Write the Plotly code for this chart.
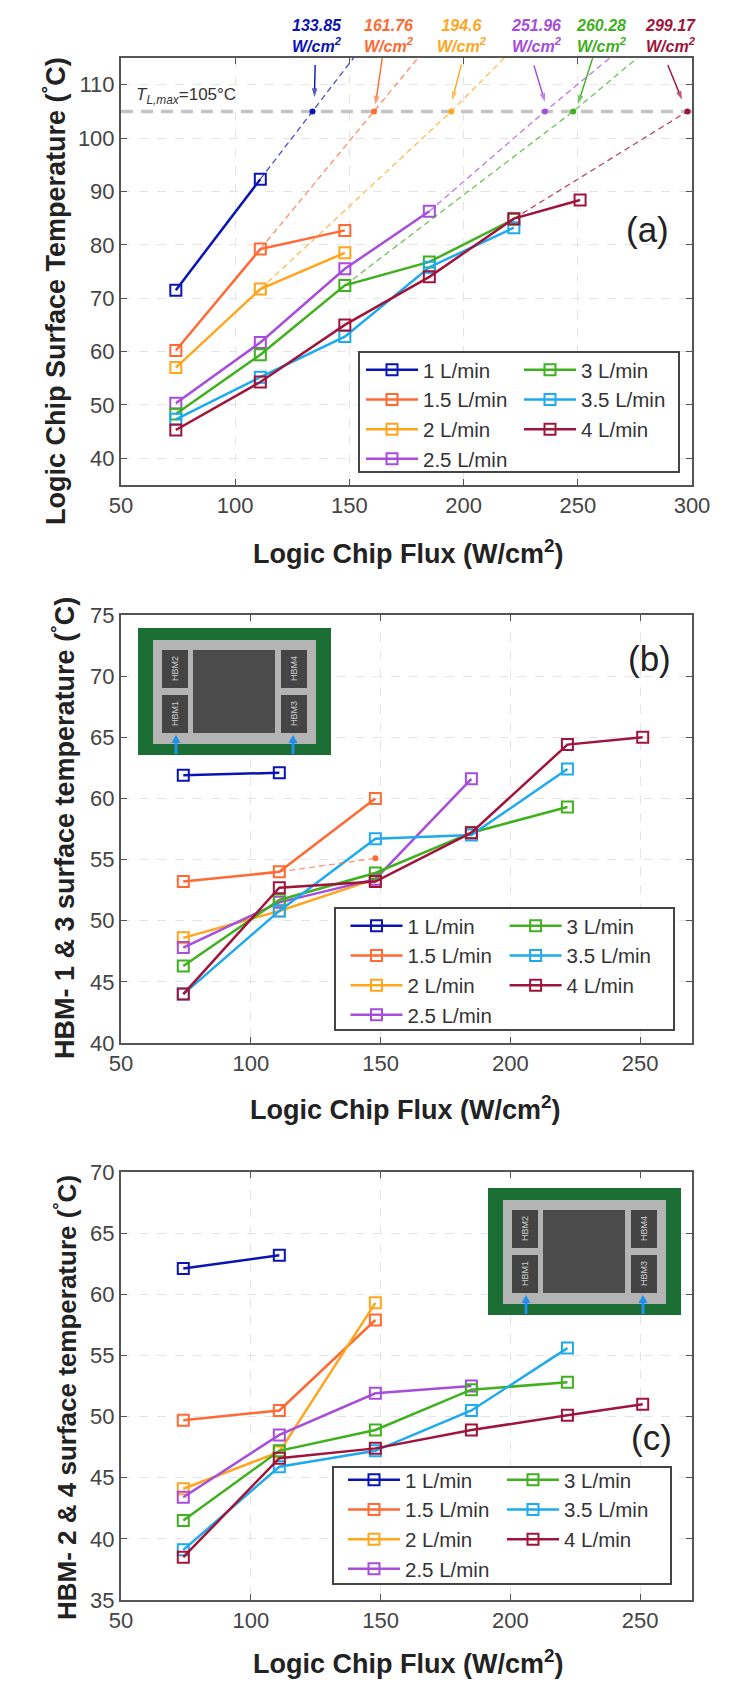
import plotly.graph_objects as go

W, H = 750, 1694
FLUX = [74, 111, 148, 185, 222, 251]
NAMES = ["1 L/min", "1.5 L/min", "2 L/min", "2.5 L/min", "3 L/min", "3.5 L/min", "4 L/min"]
COLORS = ["#0a14b4", "#ff6a33", "#ffa51e", "#a64ddb", "#3fb01e", "#1eaaee", "#a0143c"]

LOGIC = [[71.5, 92.3], [60.2, 79.2, 82.7], [57, 71.7, 78.5], [50.3, 61.7, 75.5, 86.3],
         [48.3, 59.4, 72.4, 76.8, 84.8], [47.3, 55.2, 62.8, 75.8, 83.2],
         [45.3, 54.3, 65, 74, 84.9, 88.4]]
HBM13 = [[61.9, 62.1], [53.2, 54, 60], [48.6, 50.8, 53.4], [47.8, 51.5, 53.4, 61.6],
         [46.3, 51.7, 53.9, 57.2, 59.3], [44, 50.8, 56.7, 57, 62.4],
         [44, 52.7, 53.2, 57.2, 64.4, 65]]
HBM24 = [[62.1, 63.2], [49.7, 50.5, 57.9], [44.1, 47.1, 59.3], [43.4, 48.5, 51.9, 52.5],
         [41.5, 47.2, 48.9, 52.2, 52.8], [39.1, 45.9, 47.2, 50.5, 55.6],
         [38.5, 46.6, 47.4, 48.9, 50.1, 51]]

# extrapolation in panel (a)
EXT_START = [1, 1, 1, 3, 2, 4]
EXT_SERIES = [0, 1, 2, 3, 4, 6]
EXT_CROSS = [133.85, 160.8, 194.6, 235.6, 248, 298]
EXT_TOP = [151.8, 180, 217.8, 264, 276, None]
LIMIT = 105
TOP = 115
LABELS = ["133.85", "161.76", "194.6", "251.96", "260.28", "299.17"]
LABEL_PX = [317, 389, 462, 536, 601, 670]
HEAD_X = [134.7, 161.4, 195, 235.6, 250.1, 295.6]
HEAD_Y = [107.7, 106.3, 107.1, 106.8, 106.4, 107.2]
TAIL_X = [135, 164.4, 199, 230.8, 256.5, 289.4]
TAIL_Y = [113.7, 115, 113.75, 113.6, 115, 113.7]

FONT = "Liberation Sans"
def px(x): return x / W
def py(y): return 1 - y / H

fig = go.Figure()
PANELS = [
    dict(data=LOGIC, top=58, bot=485, l=121, r=692, xr=[50, 300], yr=[35, 115], dy=10,
         box=(359, 352, 679, 472), cols=(361, 519), legy=350, ytitle="Logic Chip Surface Temperature (<sup>°</sup>C)",
         yt=(54, 291), yts=27, xt=(408, 552), tag="(a)", tagp=(647, 229)),
    dict(data=HBM13, top=615, bot=1043, l=121, r=692, xr=[50, 270], yr=[40, 75], dy=5,
         box=(335, 908, 674, 1030), cols=(345.5, 504.6), legy=906, ytitle="HBM- 1 &amp; 3 surface temperature (<sup>°</sup>C)",
         yt=(63, 828), yts=27, xt=(405, 1108), tag="(b)", tagp=(649, 658)),
    dict(data=HBM24, top=1172, bot=1600, l=121, r=692, xr=[50, 270], yr=[35, 70], dy=5,
         box=(333, 1467, 671, 1584), cols=(343, 502), legy=1460, ytitle="HBM- 2 &amp; 4 surface temperature (<sup>°</sup>C)",
         yt=(65, 1398), yts=26, xt=(408, 1662), tag="(c)", tagp=(651, 1437)),
]

layout = dict(width=W, height=H, margin=dict(l=0, r=0, t=0, b=0, autoexpand=False), paper_bgcolor="white",
              plot_bgcolor="white", font=dict(family=FONT, color="#333"), annotations=[], shapes=[])


def note(text, x, y, size, color, **kw):
    d = dict(text=text, xref="paper", yref="paper", x=px(x), y=py(y), showarrow=False, xanchor="center",
             yanchor="middle", font=dict(size=size, color=color, family=FONT))
    d.update(kw)
    layout["annotations"].append(d)


def rect(x0, y0, x1, y1, fill, line=None):
    layout["shapes"].append(dict(type="rect", xref="paper", yref="paper", x0=px(x0), x1=px(x1), y0=py(y1), y1=py(y0),
                                 fillcolor=fill, line=line or dict(width=0), layer="above"))


for i, p in enumerate(PANELS):
    s = "" if i == 0 else str(i + 1)
    ax = dict(showline=True, linecolor="#555", linewidth=2, mirror="ticks", ticks="inside", ticklen=6,
              tickcolor="#555", showgrid=True, gridcolor="#e4e4e4", griddash="dash", zeroline=False,
              tickfont=dict(size=22, color="#444", family=FONT))
    layout["xaxis" + s] = dict(ax, domain=[px(p["l"]), px(p["r"])], range=p["xr"], dtick=50, tick0=50,
                               anchor="y" + s)
    layout["yaxis" + s] = dict(ax, domain=[py(p["bot"]), py(p["top"])], range=p["yr"], dtick=p["dy"],
                               anchor="x" + s)
    rect(p["box"][0], p["box"][1], p["box"][2], p["box"][3], "white", dict(color="#444", width=2))
    ids = []
    for c in range(2):
        n = 2 * i + c + 1
        lid = "legend" if n == 1 else "legend%d" % n
        ids.append(lid)
        layout[lid] = dict(x=px(p["cols"][c]), y=py(p["legy"]), xref="paper", yref="paper", xanchor="left",
                           yanchor="top", orientation="v", bgcolor="rgba(0,0,0,0)", borderwidth=0,
                           font=dict(size=20.5, color="#333", family=FONT), itemwidth=52, traceorder="normal")
    for k, name in enumerate(NAMES):
        vals = p["data"][k]
        fig.add_trace(go.Scatter(x=FLUX[:len(vals)], y=vals, name=name, mode="lines+markers",
                                 xaxis="x" + s, yaxis="y" + s, legend=ids[0 if k < 4 else 1],
                                 line=dict(color=COLORS[k], width=2.5),
                                 marker=dict(symbol="square-open", size=11, color=COLORS[k],
                                             line=dict(width=2, color=COLORS[k]))))
    note("<b>Logic Chip Flux (W/cm<sup>2</sup>)</b>", p["xt"][0], p["xt"][1], 27, "#222")
    note("<b>" + p["ytitle"] + "</b>", p["yt"][0], p["yt"][1], p["yts"], "#222", textangle=-90)
    note(p["tag"], p["tagp"][0], p["tagp"][1], 35, "#222")

# limit line panel (a)
fig.add_trace(go.Scatter(x=[50, 300], y=[LIMIT, LIMIT], mode="lines", showlegend=False, xaxis="x", yaxis="y",
                         line=dict(color="#c4c4c4", width=3.5, dash="12px,8px")))
for j, k in enumerate(EXT_SERIES):
    st = EXT_START[j]
    xs = [FLUX[st], EXT_CROSS[j]]
    ys = [LOGIC[k][st], LIMIT]
    if EXT_TOP[j] is not None:
        xs.append(EXT_TOP[j]); ys.append(TOP)
    fig.add_trace(go.Scatter(x=xs, y=ys, mode="lines", showlegend=False, xaxis="x", yaxis="y", opacity=0.75,
                             line=dict(color=COLORS[k], width=1.3, dash="6px,4px")))
    fig.add_trace(go.Scatter(x=[EXT_CROSS[j]], y=[LIMIT], mode="markers", showlegend=False, xaxis="x", yaxis="y",
                             marker=dict(color=COLORS[k], size=6)))
    fig.add_trace(go.Scatter(x=[TAIL_X[j], HEAD_X[j]], y=[TAIL_Y[j], HEAD_Y[j]], mode="lines+markers", showlegend=False,
                             xaxis="x", yaxis="y", line=dict(color=COLORS[k], width=1.4),
                             marker=dict(symbol="arrow", angleref="previous", size=[0, 9], color=COLORS[k],
                                         line=dict(width=0))))
    note("<b><i>%s<br>W/cm<sup>2</sup></i></b>" % LABELS[j], LABEL_PX[j], 36, 16, COLORS[k])
note("<i>T<sub>L,max</sub></i>=105°C", 134, 96, 17, "#333", xanchor="left")

# orange extrapolated marker in panel (b)
B_X = [111, 148]
B_Y = [54, 55.1]
fig.add_trace(go.Scatter(x=B_X, y=B_Y, mode="lines", showlegend=False, xaxis="x2", yaxis="y2", opacity=0.7,
                         line=dict(color=COLORS[1], width=1.3, dash="6px,4px")))
fig.add_trace(go.Scatter(x=B_X[1:], y=B_Y[1:], mode="markers", showlegend=False, xaxis="x2", yaxis="y2",
                         marker=dict(color=COLORS[1], size=6)))


# package insets
def inset(ox, oy, labels):
    rect(ox, oy, ox + 193, oy + 127, "#1b6f35")
    rect(ox + 15, oy + 12, ox + 178, oy + 116, "#b4b4b4")
    rect(ox + 55, oy + 22, ox + 137, oy + 105, "#4b4b4b")
    boxes = [(ox + 24, oy + 22), (ox + 24, oy + 67), (ox + 143, oy + 22), (ox + 143, oy + 67)]
    for (bx, by), lab in zip(boxes, labels):
        rect(bx, by, bx + 26, by + 38, "#444444")
        note(lab, bx + 13, by + 19, 9, "#cfcfcf", textangle=-90)
    for a in (ox + 38, ox + 155):
        rect(a - 1.5, oy + 114, a + 1.5, oy + 126, "#1e90ee")
        layout["shapes"].append(dict(type="path", xref="paper", yref="paper", layer="above", fillcolor="#1e90ee",
                                     line=dict(width=0),
                                     path="M %f %f L %f %f L %f %f Z" % (px(a), py(oy + 107), px(a - 4.5), py(oy + 115),
                                                                         px(a + 4.5), py(oy + 115))))


inset(138, 628, ["HBM2", "HBM1", "HBM4", "HBM3"])
inset(488, 1188, ["HBM2", "HBM1", "HBM4", "HBM3"])

fig.update_layout(**layout)
fig.write_html("out.html", config={"displayModeBar": False}, post_script="document.body.style.margin='0';")
